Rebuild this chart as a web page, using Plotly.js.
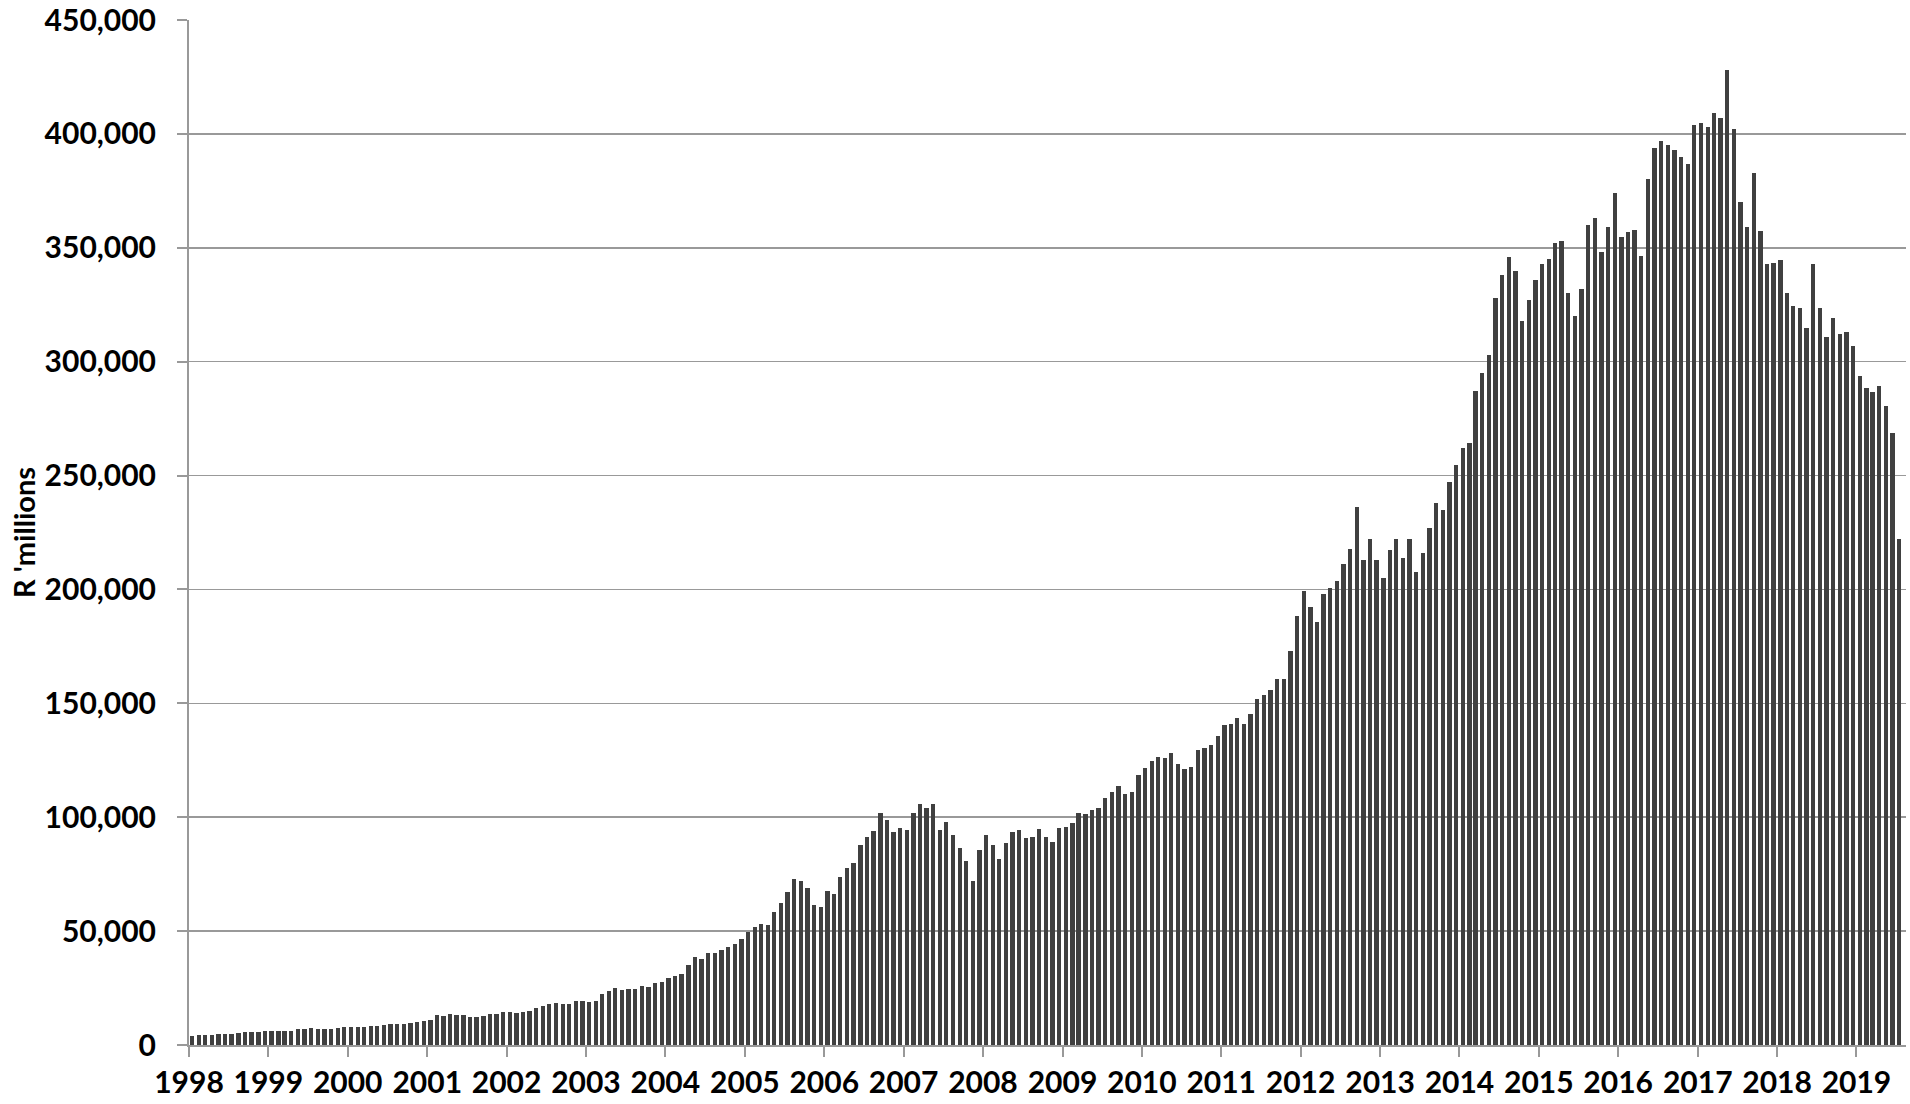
<!DOCTYPE html>
<html>
<head>
<meta charset="utf-8">
<script src="https://cdn.plot.ly/plotly-3.0.1.min.js"></script>
<style>html,body{margin:0;padding:0;background:#fff;}#chart{width:1910px;height:1104px;}</style>
</head>
<body>
<div id="chart"></div>
<script>
// Tick labels (years) and monthly values, R millions
const years = [1998,1999,2000,2001,2002,2003,2004,2005,2006,2007,2008,2009,2010,2011,2012,2013,2014,2015,2016,2017,2018,2019];
const v1998 = [4000,4200,4300,4500,4800,4800,5000,5300,5700,5600,5600,6300];
const v1999 = [6000,6000,6300,6300,6900,6900,7300,7200,7200,6900,7600,7800];
const v2000 = [7800,8050,8050,8350,8350,8600,9100,9100,9100,9800,10200,10700];
const v2001 = [11000,13200,12700,13600,13000,13000,12400,12400,12600,13800,13800,14300];
const v2002 = [14350,14200,14500,15100,16400,17000,17900,18300,18200,18200,19200,19300];
const v2003 = [18700,19500,22400,23600,25200,24000,24500,24700,25800,25600,27100,27800];
const v2004 = [29300,30200,31300,35300,38500,37900,40300,40300,41600,43200,44200,46700];
const v2005 = [49800,51600,53300,52700,58300,62200,67100,73000,72100,69100,61400,60800];
const v2006 = [67800,66200,73700,77900,80100,87900,91400,93900,102000,99000,93400,95200];
const v2007 = [94200,102000,106000,104000,106000,94600,98100,92400,86600,80700,72200,85400];
const v2008 = [92000,87600,81700,88900,93300,94200,90700,91200,95000,91500,89200,95200];
const v2009 = [95600,97500,102000,101500,103000,104000,108500,111000,113500,110000,111000,118600];
const v2010 = [121600,124500,126400,126000,128400,123300,121100,122000,129300,130600,131700,135600];
const v2011 = [140400,141000,143500,140900,145500,152000,153500,156000,160500,160500,173000,188500];
const v2012 = [199200,192200,185700,198200,200600,203700,211200,217900,236000,212800,222000,213100];
const v2013 = [205200,217300,222000,213800,222000,207800,216200,227000,238000,235000,247000,254800];
const v2014 = [261900,264400,287000,295000,303000,328000,338000,346000,340000,318000,327000,336000];
const v2015 = [343000,345000,352000,353000,330000,320000,332000,360000,363000,348000,359000,374000];
const v2016 = [354700,356900,358000,346400,380000,394000,397000,395000,393000,390000,387000,404000];
const v2017 = [405000,403000,409000,407000,428000,402000,370000,359000,383000,357200,343000,343300];
const v2018 = [344600,330000,324300,323700,314600,343000,323400,310800,319100,312000,313000,306700];
const v2019 = [293600,288400,286900,289300,280600,268900,222200];

const byYear = [v1998,v1999,v2000,v2001,v2002,v2003,v2004,v2005,v2006,v2007,v2008,v2009,
                v2010,v2011,v2012,v2013,v2014,v2015,v2016,v2017,v2018,v2019];

// months as categories (mid-month dates)
const months = [];
const values = [];
byYear.forEach((arr, i) => {
  arr.forEach((v, m) => {
    const mm = String(m + 1).padStart(2, '0');
    months.push(years[i] + '-' + mm + '-16');
    values.push(v);
  });
});

const DAY = 86400000;
const trace = {
  type: 'bar',
  x: months,
  y: values,
  width: months.map(() => 20 * DAY),
  marker: {color: '#404040', line: {width: 0}},
  hoverinfo: 'x+y'
};

const tickFont = {family: 'Lato, "DejaVu Sans", sans-serif', color: '#000', weight: 'bold'};
const layout = {
  width: 1910, height: 1104,
  margin: {l: 189, r: 4, t: 20, b: 59},
  paper_bgcolor: '#fff', plot_bgcolor: '#fff',
  showlegend: false,
  bargap: 0,
  xaxis: {
    type: 'date',
    range: ['1998-01-01', '2019-08-17'],
    tick0: '1998-01-01', dtick: 'M12', tickformat: '%Y',
    ticklabelmode: 'instant',
    ticks: 'outside', ticklen: 10, tickwidth: 2, tickcolor: '#999',
    showline: true, linecolor: '#999', linewidth: 2,
    showgrid: false, zeroline: false,
    tickfont: Object.assign({size: 30}, tickFont),
    ticklabelstandoff: 0,
    fixedrange: true
  },
  yaxis: {
    range: [0, 450000], dtick: 50000, tickformat: ',d',
    ticks: 'outside', ticklen: 10, tickwidth: 2, tickcolor: '#999',
    showline: true, linecolor: '#999', linewidth: 2,
    showgrid: true, gridcolor: '#999', gridwidth: 1.5,
    zeroline: false,
    tickfont: Object.assign({size: 30}, tickFont),
    ticklabelstandoff: 15,
    title: {text: "R 'millions", font: Object.assign({size: 29}, tickFont), standoff: 0},
    fixedrange: true
  }
};

Plotly.newPlot('chart', [trace], layout, {displayModeBar: false, staticPlot: true});
</script>
</body>
</html>
